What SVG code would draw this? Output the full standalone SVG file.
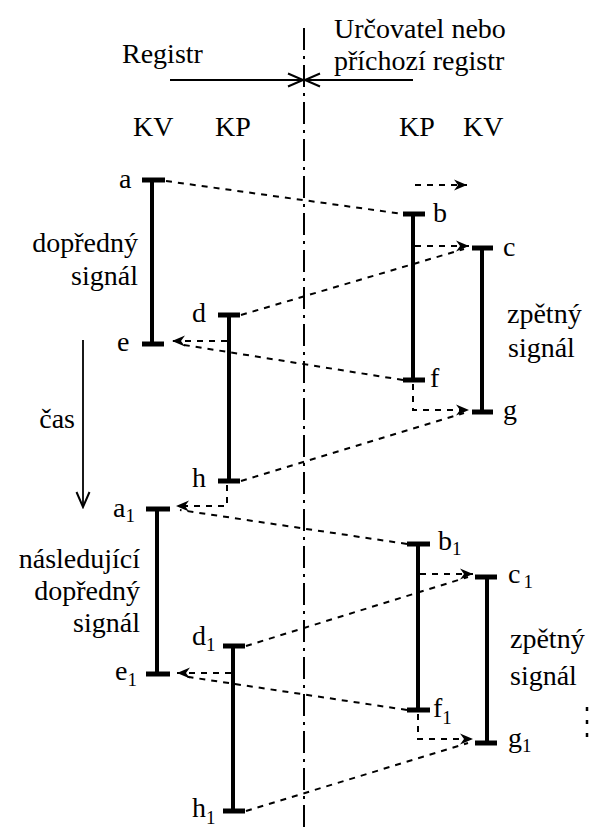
<svg xmlns="http://www.w3.org/2000/svg" width="592" height="832" viewBox="0 0 592 832">
<style>
.t{font-size:28px;fill:#000}
.sub{font-size:19px}
.bar{stroke:#000;stroke-width:4;fill:none}
.tick{stroke:#000;stroke-width:5;fill:none}
.dot{stroke:#000;stroke-width:2;stroke-dasharray:6 6;fill:none}
.solid{stroke:#000;stroke-width:1.8;fill:none}
.center{stroke:#000;stroke-width:2;stroke-dasharray:22 6 3 6;fill:none}
</style>
<defs>
<marker id="ah" markerUnits="userSpaceOnUse" markerWidth="14" markerHeight="12" refX="13" refY="6" orient="auto">
<path d="M0,0.5 L13,6 L0,11.5 L4,6 Z" fill="#000"/>
</marker>
<marker id="open" markerUnits="userSpaceOnUse" markerWidth="18" markerHeight="16" refX="16" refY="8" orient="auto">
<path d="M1,1.5 L16,8 L1,14.5" fill="none" stroke="#000" stroke-width="2"/>
</marker>
</defs>
<rect width="592" height="832" fill="#fff"/>

<g id="header">
<text class="t" style="font-family:Liberation Serif,Times New Roman,serif" x="122" y="63">Registr</text>
<text class="t" style="font-family:Liberation Serif,Times New Roman,serif" x="334" y="38">Určovatel nebo</text>
<text class="t" style="font-family:Liberation Serif,Times New Roman,serif" x="334" y="70">příchozí registr</text>
<text class="t" style="font-family:Liberation Serif,Times New Roman,serif" x="133" y="136">KV</text>
<text class="t" style="font-family:Liberation Serif,Times New Roman,serif" x="215" y="136">KP</text>
<text class="t" style="font-family:Liberation Serif,Times New Roman,serif" x="399" y="136">KP</text>
<text class="t" style="font-family:Liberation Serif,Times New Roman,serif" x="463" y="136">KV</text>
</g>

<g id="side-labels">
<text class="t" style="font-family:Liberation Serif,Times New Roman,serif" x="138" y="252" text-anchor="end">dopředný</text>
<text class="t" style="font-family:Liberation Serif,Times New Roman,serif" x="138" y="285" text-anchor="end">signál</text>
<text class="t" style="font-family:Liberation Serif,Times New Roman,serif" x="75" y="428" text-anchor="end">čas</text>
<text class="t" style="font-family:Liberation Serif,Times New Roman,serif" x="140" y="568" text-anchor="end">následující</text>
<text class="t" style="font-family:Liberation Serif,Times New Roman,serif" x="140" y="600" text-anchor="end">dopředný</text>
<text class="t" style="font-family:Liberation Serif,Times New Roman,serif" x="140" y="632" text-anchor="end">signál</text>
<text class="t" style="font-family:Liberation Serif,Times New Roman,serif" x="507" y="323">zpětný</text>
<text class="t" style="font-family:Liberation Serif,Times New Roman,serif" x="508" y="357">signál</text>
<text class="t" style="font-family:Liberation Serif,Times New Roman,serif" x="510" y="648">zpětný</text>
<text class="t" style="font-family:Liberation Serif,Times New Roman,serif" x="510" y="685">signál</text>
</g>

<g id="connectors">
<line class="center" x1="304" y1="28" x2="304" y2="832"/>
<line class="solid" x1="170" y1="80" x2="303" y2="80" marker-end="url(#open)"/>
<line class="solid" x1="413" y1="80" x2="305" y2="80" marker-end="url(#open)"/>
<line class="solid" x1="83" y1="340" x2="83" y2="507" marker-end="url(#open)"/>
<line class="dot" x1="415" y1="185" x2="467" y2="185" marker-end="url(#ah)"/>
<line class="dot" x1="166" y1="181" x2="403" y2="214"/>
<line class="dot" x1="415" y1="246" x2="469" y2="246" marker-end="url(#ah)"/>
<line class="dot" x1="241" y1="315" x2="464" y2="249"/>
<line class="dot" x1="227" y1="341" x2="172" y2="341" marker-end="url(#ah)"/>
<line class="dot" x1="403" y1="380" x2="178" y2="344"/>
<polyline class="dot" points="413,384 413,410 469,410" marker-end="url(#ah)"/>
<line class="dot" x1="241" y1="481" x2="464" y2="413"/>
<polyline class="dot" points="227,485 227,506 176,506" marker-end="url(#ah)"/>
<line class="dot" x1="407" y1="544" x2="180" y2="510"/>
<line class="dot" x1="420" y1="574" x2="473" y2="574" marker-end="url(#ah)"/>
<line class="dot" x1="246" y1="646" x2="468" y2="577"/>
<line class="dot" x1="231" y1="673" x2="177" y2="673" marker-end="url(#ah)"/>
<line class="dot" x1="407" y1="710" x2="182" y2="676"/>
<polyline class="dot" points="418,714 418,739 473,739" marker-end="url(#ah)"/>
<line class="dot" x1="246" y1="811" x2="468" y2="743"/>
<line x1="587" y1="707" x2="587" y2="740" stroke="#000" stroke-width="2.5" stroke-dasharray="4 9"/>
</g>

<g id="node-a"><line class="tick" x1="142" y1="180" x2="165" y2="180"/><text class="t" style="font-family:Liberation Serif,Times New Roman,serif" x="119" y="188">a</text></g>
<g id="node-e"><line class="tick" x1="142" y1="344" x2="164" y2="344"/><text class="t" style="font-family:Liberation Serif,Times New Roman,serif" x="117" y="351">e</text></g>
<line class="bar" x1="152" y1="180" x2="152" y2="344"/>
<g id="node-d"><line class="tick" x1="218" y1="315" x2="240" y2="315"/><text class="t" style="font-family:Liberation Serif,Times New Roman,serif" x="192" y="322">d</text></g>
<g id="node-h"><line class="tick" x1="218" y1="481" x2="240" y2="481"/><text class="t" style="font-family:Liberation Serif,Times New Roman,serif" x="192" y="487">h</text></g>
<line class="bar" x1="229" y1="315" x2="229" y2="481"/>
<g id="node-b"><line class="tick" x1="403" y1="214" x2="425" y2="214"/><text class="t" style="font-family:Liberation Serif,Times New Roman,serif" x="433" y="222">b</text></g>
<g id="node-f"><line class="tick" x1="403" y1="380" x2="425" y2="380"/><text class="t" style="font-family:Liberation Serif,Times New Roman,serif" x="430" y="387">f</text></g>
<line class="bar" x1="413" y1="214" x2="413" y2="380"/>
<g id="node-c"><line class="tick" x1="472" y1="248" x2="493" y2="248"/><text class="t" style="font-family:Liberation Serif,Times New Roman,serif" x="503" y="256">c</text></g>
<g id="node-g"><line class="tick" x1="472" y1="412" x2="493" y2="412"/><text class="t" style="font-family:Liberation Serif,Times New Roman,serif" x="503" y="419">g</text></g>
<line class="bar" x1="482" y1="248" x2="482" y2="412"/>

<g id="node-a1"><line class="tick" x1="146" y1="509" x2="170" y2="509"/><text class="t" style="font-family:Liberation Serif,Times New Roman,serif" x="113" y="517">a<tspan class="sub" dy="5">1</tspan></text></g>
<g id="node-e1"><line class="tick" x1="146" y1="674" x2="170" y2="674"/><text class="t" style="font-family:Liberation Serif,Times New Roman,serif" x="115" y="680">e<tspan class="sub" dy="6">1</tspan></text></g>
<line class="bar" x1="157" y1="509" x2="157" y2="674"/>
<g id="node-d1"><line class="tick" x1="223" y1="646" x2="245" y2="646"/><text class="t" style="font-family:Liberation Serif,Times New Roman,serif" x="192" y="645">d<tspan class="sub" dy="6">1</tspan></text></g>
<g id="node-h1"><line class="tick" x1="223" y1="811" x2="245" y2="811"/><text class="t" style="font-family:Liberation Serif,Times New Roman,serif" x="192" y="817">h<tspan class="sub" dy="7">1</tspan></text></g>
<line class="bar" x1="233" y1="646" x2="233" y2="811"/>
<g id="node-b1"><line class="tick" x1="407" y1="544" x2="430" y2="544"/><text class="t" style="font-family:Liberation Serif,Times New Roman,serif" x="438" y="550">b<tspan class="sub" dy="5">1</tspan></text></g>
<g id="node-f1"><line class="tick" x1="407" y1="710" x2="430" y2="710"/><text class="t" style="font-family:Liberation Serif,Times New Roman,serif" x="433" y="717">f<tspan class="sub" dy="7">1</tspan></text></g>
<line class="bar" x1="418" y1="544" x2="418" y2="710"/>
<g id="node-c1"><line class="tick" x1="475" y1="577" x2="497" y2="577"/><text class="t" style="font-family:Liberation Serif,Times New Roman,serif" x="508" y="583">c<tspan class="sub" dy="5" dx="3">1</tspan></text></g>
<g id="node-g1"><line class="tick" x1="475" y1="743" x2="497" y2="743"/><text class="t" style="font-family:Liberation Serif,Times New Roman,serif" x="508" y="747">g<tspan class="sub" dy="5">1</tspan></text></g>
<line class="bar" x1="487" y1="577" x2="487" y2="743"/>
</svg>
